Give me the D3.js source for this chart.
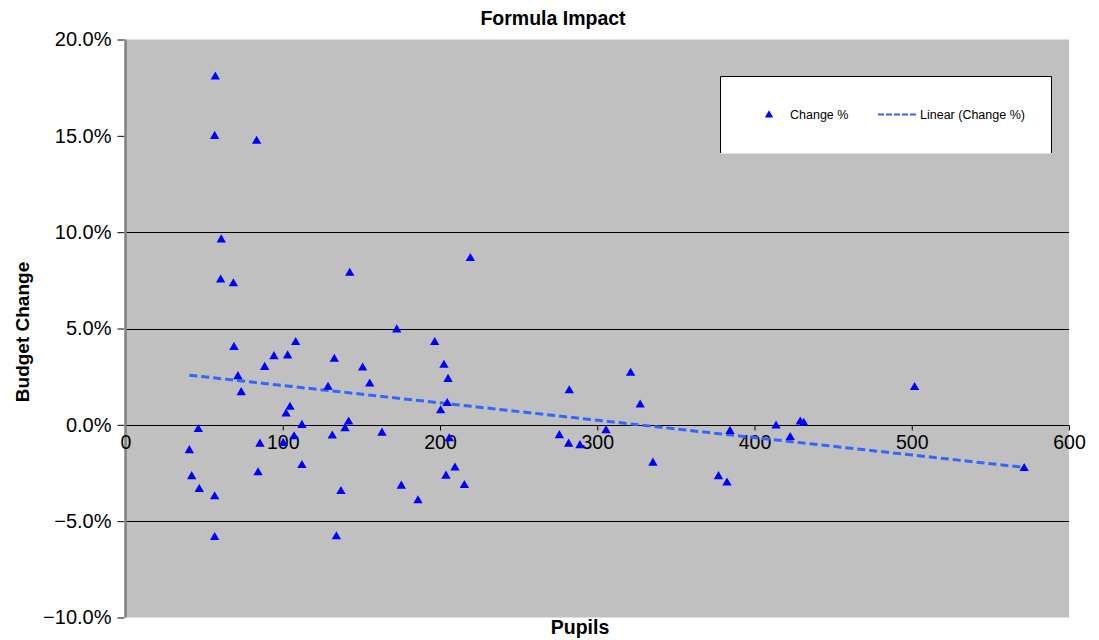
<!DOCTYPE html>
<html>
<head>
<meta charset="utf-8">
<script src="https://cdn.jsdelivr.net/npm/d3@7"></script>
<style>
  html, body { margin: 0; padding: 0; background: #ffffff; }
  svg { display: block; font-family: "Liberation Sans", Arial, sans-serif; }
</style>
</head>
<body>
<svg id="chart" width="1099" height="640"></svg>
<script>
// ---- data ----
const pupils = [57.1, 56.7, 83.4, 60.9, 60.5, 68.6, 142.6, 69.0, 108.2, 94.4,
  103.1, 132.8, 88.5, 150.8, 71.5, 155.3, 128.8, 73.6, 104.6, 102.1,
  112.2, 141.9, 46.3, 139.6, 107.2, 131.5, 40.6, 85.5, 100.3, 112.2,
  42.1, 84.3, 46.9, 56.7, 137.0, 56.7, 134.1, 219.3, 172.5, 196.6,
  202.5, 205.1, 282.2, 204.6, 200.4, 163.1, 205.9, 275.9, 281.8, 289.0,
  305.6, 209.5, 203.8, 175.4, 215.5, 186.0, 321.2, 327.3, 501.8, 413.7,
  429.1, 431.3, 384.4, 422.7, 335.4, 377.1, 382.5, 571.5];
const changePct = [18.11, 15.03, 14.78, 9.66, 7.58, 7.38, 7.93, 4.08, 4.33, 3.60,
  3.64, 3.46, 3.04, 3.01, 2.56, 2.18, 2.01, 1.73, 0.97, 0.62,
  0.03, 0.21, -0.18, -0.14, -0.56, -0.52, -1.28, -0.94, -0.90, -2.05,
  -2.63, -2.43, -3.29, -3.67, -3.40, -5.79, -5.75, 8.69, 4.99, 4.33,
  3.15, 2.42, 1.83, 1.17, 0.79, -0.37, -0.66, -0.50, -0.94, -1.02,
  -0.24, -2.18, -2.60, -3.12, -3.09, -3.88, 2.74, 1.09, 2.00, 0.0,
  0.21, 0.14, -0.28, -0.60, -1.93, -2.63, -2.96, -2.21];
const xTickValues = [0, 100, 200, 300, 400, 500, 600];
const yTickValues = [-10, -5, 0, 5, 10, 15, 20];
const gridValues = [-5, 0, 5, 10];
const titleText = "Formula Impact";
const xTitle = "Pupils";
const yTitle = "Budget Change";
const seriesName = "Change %";
const trendName = "Linear (Change %)";

// ---- layout ----
const svg = d3.select("#chart");
const plot = { left: 125, right: 1069, top: 39.5, bottom: 617.5 };
const x = d3.scaleLinear().domain([0, 600]).range([125.5, 1069]);
const y = d3.scaleLinear().domain([-10, 20]).range([plot.bottom, plot.top]);

svg.append("rect").attr("width", 1099).attr("height", 640).attr("fill", "#ffffff");

// plot area
svg.append("rect")
  .attr("x", plot.left).attr("y", plot.top)
  .attr("width", plot.right - plot.left).attr("height", plot.bottom - plot.top)
  .attr("fill", "#c0c0c0");

// gridlines
svg.append("g").selectAll("line").data(gridValues).join("line")
  .attr("x1", plot.left).attr("x2", plot.right)
  .attr("y1", d => Math.round(y(d)) + 0.5).attr("y2", d => Math.round(y(d)) + 0.5)
  .attr("stroke", "#000").attr("stroke-width", 1.2);

// y axis
const yAxis = d3.axisLeft(y).tickValues(yTickValues).tickSize(7).tickPadding(6)
  .tickFormat(d => d3.format(".1f")(d) + "%");
const gy = svg.append("g").attr("transform", `translate(${plot.left - 0.5},0)`).call(yAxis);
gy.select(".domain").remove();
gy.selectAll(".tick line").attr("stroke", "#000");
gy.selectAll(".tick text").attr("font-size", 20).attr("fill", "#000")
  .attr("font-family", "Liberation Sans, Arial, sans-serif");
svg.append("line").attr("x1", plot.left + 0.5).attr("x2", plot.left + 0.5)
  .attr("y1", plot.top).attr("y2", plot.bottom).attr("stroke", "#808080").attr("stroke-width", 2.5);

// x axis at 0%
const xAxis = d3.axisBottom(x).tickValues(xTickValues).tickSize(5).tickPadding(5)
  .tickFormat(d3.format("d"));
const gx = svg.append("g").attr("transform", `translate(0,${Math.round(y(0)) + 0.5})`).call(xAxis);
gx.select(".domain").remove();
gx.selectAll(".tick line").attr("stroke", "#000").attr("display", d => d === 0 ? "none" : null);
gx.selectAll(".tick text").attr("font-size", 19.5).attr("fill", "#000")
  .attr("font-family", "Liberation Sans, Arial, sans-serif");

// trendline (least squares)
const n = pupils.length;
const mx = d3.mean(pupils), my = d3.mean(changePct);
let sxy = 0, sxx = 0;
for (let i = 0; i < n; i++) { sxy += (pupils[i] - mx) * (changePct[i] - my); sxx += (pupils[i] - mx) ** 2; }
const slope = sxy / sxx, intercept = my - slope * mx;
const xExt = d3.extent(pupils);
const trend = xExt.map(v => [v, intercept + slope * v]);
svg.append("path")
  .attr("d", d3.line().x(d => x(d[0])).y(d => y(d[1]))(trend))
  .attr("fill", "none").attr("stroke", "#3366ff").attr("stroke-width", 3)
  .attr("stroke-dasharray", "8,4");

// points
const tri = d3.symbol().type(d3.symbolTriangle).size(38);
svg.append("g").selectAll("path").data(pupils.map((p, i) => [p, changePct[i]])).join("path")
  .attr("d", tri)
  .attr("transform", d => `translate(${x(d[0])},${y(d[1]) + 1})`)
  .attr("fill", "#0000ff");

// title and axis titles
svg.append("text").attr("x", 553).attr("y", 25).attr("text-anchor", "middle")
  .attr("font-size", 19.5).attr("font-weight", "bold").text(titleText);
svg.append("text").attr("x", 580).attr("y", 634).attr("text-anchor", "middle")
  .attr("font-size", 19.5).attr("font-weight", "bold").text(xTitle);
svg.append("text").attr("transform", "translate(29,332) rotate(-90)").attr("text-anchor", "middle")
  .attr("font-size", 19).attr("font-weight", "bold").text(yTitle);

// legend
const lg = svg.append("g");
lg.append("rect").attr("x", 720.5).attr("y", 76.5).attr("width", 331).attr("height", 77)
  .attr("fill", "#ffffff");
lg.append("path").attr("d", "M720.5,153 V76.5 H1051.5 V153")
  .attr("fill", "none").attr("stroke", "#000").attr("stroke-width", 1);
lg.append("path").attr("d", tri.size(30)).attr("transform", "translate(769,115)").attr("fill", "#0000ff");
lg.append("text").attr("x", 790).attr("y", 119).attr("font-size", 12.5).text(seriesName);
lg.append("line").attr("x1", 878).attr("x2", 918).attr("y1", 114.5).attr("y2", 114.5)
  .attr("stroke", "#3366ff").attr("stroke-width", 2).attr("stroke-dasharray", "6,2");
lg.append("text").attr("x", 920).attr("y", 119).attr("font-size", 12.5).text(trendName);
</script>
</body>
</html>
